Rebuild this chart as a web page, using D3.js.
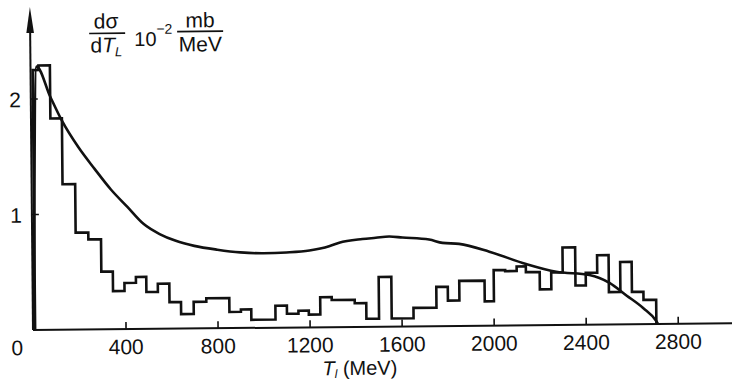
<!DOCTYPE html>
<html><head><meta charset="utf-8">
<script src="https://cdn.jsdelivr.net/npm/d3@7"></script>
<style>
html,body{margin:0;padding:0;background:#fff;}
svg{display:block;}
text{font-family:"Liberation Sans",Arial,sans-serif;fill:#111;}
</style>
</head><body>
<svg id="c" width="732" height="380"></svg>
<script>
// Histogram bin edges (MeV) and heights (10^-2 mb/MeV)
const binEdges = [5, 30, 80, 130, 185, 240, 295, 345, 395, 445, 490, 540, 590, 640, 695, 750, 850, 900, 945, 1050, 1100, 1150, 1195, 1245, 1295, 1395, 1445, 1500, 1555, 1650, 1750, 1800, 1850, 1960, 2000, 2050, 2100, 2140, 2200, 2250, 2300, 2355, 2400, 2450, 2500, 2550, 2600, 2650, 2705];
const binValues = [2.25, 2.29, 1.83, 1.26, 0.84, 0.78, 0.50, 0.33, 0.40, 0.45, 0.32, 0.39, 0.23, 0.125, 0.23, 0.26, 0.14, 0.16, 0.07, 0.19, 0.12, 0.145, 0.11, 0.26, 0.235, 0.205, 0.07, 0.43, 0.07, 0.16, 0.34, 0.22, 0.39, 0.21, 0.48, 0.47, 0.51, 0.46, 0.31, 0.455, 0.67, 0.34, 0.45, 0.60, 0.28, 0.54, 0.28, 0.21];
// Smooth theoretical curve
const curveT = [0, 22, 80, 130, 200, 270, 340, 410, 480, 550, 620, 700, 800, 900, 1000, 1100, 1200, 1286, 1330, 1431, 1489, 1547, 1605, 1721, 1779, 1851, 1982, 2141, 2272, 2416, 2503, 2576, 2648, 2703, 2712];
const curveV = [0, 2.28, 2.02, 1.81, 1.58, 1.39, 1.21, 1.06, 0.91, 0.82, 0.76, 0.715, 0.68, 0.655, 0.645, 0.65, 0.665, 0.70, 0.73, 0.76, 0.77, 0.78, 0.77, 0.75, 0.72, 0.71, 0.64, 0.53, 0.46, 0.43, 0.36, 0.25, 0.14, 0.03, 0];
const xTicks = [400, 800, 1200, 1600, 2000, 2400, 2800];
const xTickLabels = ["400", "800", "1200", "1600", "2000", "2400", "2800"];
const yTicks = [1, 2];
const yTickLabels = ["1", "2"];

const x = d3.scaleLinear().domain([0, 3000]).range([34, 724.3]);
const y = d3.scaleLinear().domain([0, 1]).range([330, 214.5]);
const X0 = 33, Y0 = 330;

const svg = d3.select('#c');
const g = svg.append('g').attr('transform', 'rotate(-0.55,33,330)');

// axes
g.append('line').attr('x1', X0).attr('y1', Y0).attr('x2', 740).attr('y2', Y0)
  .attr('stroke', '#111').attr('stroke-width', 2);
g.append('line').attr('x1', X0).attr('y1', Y0).attr('x2', X0).attr('y2', 20)
  .attr('stroke', '#111').attr('stroke-width', 2);
g.append('path').attr('d', `M${X0},7 L${X0-3.8},33 L${X0+3.8},33 Z`).attr('fill', '#111');

// x ticks
g.selectAll('.xt').data(xTicks).enter().append('line')
  .attr('x1', d => x(d)).attr('x2', d => x(d)).attr('y1', Y0).attr('y2', Y0 - 7)
  .attr('stroke', '#111').attr('stroke-width', 1.6);
g.selectAll('.xl').data(xTicks).enter().append('text')
  .attr('x', d => x(d)).attr('y', Y0 + 25).attr('text-anchor', 'middle')
  .attr('font-size', 21).text((d, i) => xTickLabels[i]);
g.append('text').attr('x', 17).attr('y', Y0 + 25).attr('text-anchor', 'middle')
  .attr('font-size', 21).text('0');

// y ticks
g.selectAll('.yt').data(yTicks).enter().append('line')
  .attr('x1', X0).attr('x2', X0 + 7).attr('y1', d => y(d)).attr('y2', d => y(d))
  .attr('stroke', '#111').attr('stroke-width', 1.6);
g.selectAll('.yl').data(yTicks).enter().append('text')
  .attr('x', 23).attr('y', d => y(d) + 8).attr('text-anchor', 'end')
  .attr('font-size', 21).text((d, i) => yTickLabels[i]);

// histogram
const hpts = [[binEdges[0], 0]];
binValues.forEach((v, i) => { hpts.push([binEdges[i], v]); hpts.push([binEdges[i + 1], v]); });
hpts.push([binEdges[binEdges.length - 1], 0]);
g.append('path')
  .attr('d', d3.line().x(d => x(d[0])).y(d => y(d[1]))(hpts))
  .attr('fill', 'none').attr('stroke', '#111').attr('stroke-width', 2.6)
  .attr('stroke-linejoin', 'miter');

// curve
const cpts = curveT.map((t, i) => [t, curveV[i]]);
g.append('path')
  .attr('d', d3.line().x(d => x(d[0])).y(d => y(d[1])).curve(d3.curveMonotoneX)(cpts))
  .attr('fill', 'none').attr('stroke', '#111').attr('stroke-width', 2.6);

// axis title
const xt = g.append('text').attr('x', 322).attr('y', 378).attr('font-size', 20);
xt.append('tspan').attr('font-style', 'italic').text('T');
xt.append('tspan').attr('font-style', 'italic').attr('font-size', 12).attr('dy', 3).text('l');
xt.append('tspan').attr('dy', -3).text(' (MeV)');

// y title: dσ/dT_L  10^-2 mb/MeV
g.append('text').attr('x', 109).attr('y', 29).attr('text-anchor', 'middle').attr('font-size', 21).text('dσ');
g.append('line').attr('x1', 92).attr('x2', 128).attr('y1', 34).attr('y2', 34).attr('stroke', '#111').attr('stroke-width', 1.6);
const t2 = g.append('text').attr('x', 109).attr('y', 53).attr('text-anchor', 'middle').attr('font-size', 21);
t2.append('tspan').text('d');
t2.append('tspan').attr('font-style', 'italic').text('T');
t2.append('tspan').attr('font-style', 'italic').attr('font-size', 13).attr('dy', 4).text('L');
const t3 = g.append('text').attr('x', 137).attr('y', 47).attr('font-size', 20);
t3.append('tspan').text('10');
t3.append('tspan').attr('font-size', 14).attr('dy', -12).text('−2');
g.append('text').attr('x', 203).attr('y', 29).attr('text-anchor', 'middle').attr('font-size', 21).text('mb');
g.append('line').attr('x1', 180).attr('x2', 226).attr('y1', 33).attr('y2', 33).attr('stroke', '#111').attr('stroke-width', 1.6);
g.append('text').attr('x', 203).attr('y', 53).attr('text-anchor', 'middle').attr('font-size', 21).text('MeV');
</script>
</body></html>
